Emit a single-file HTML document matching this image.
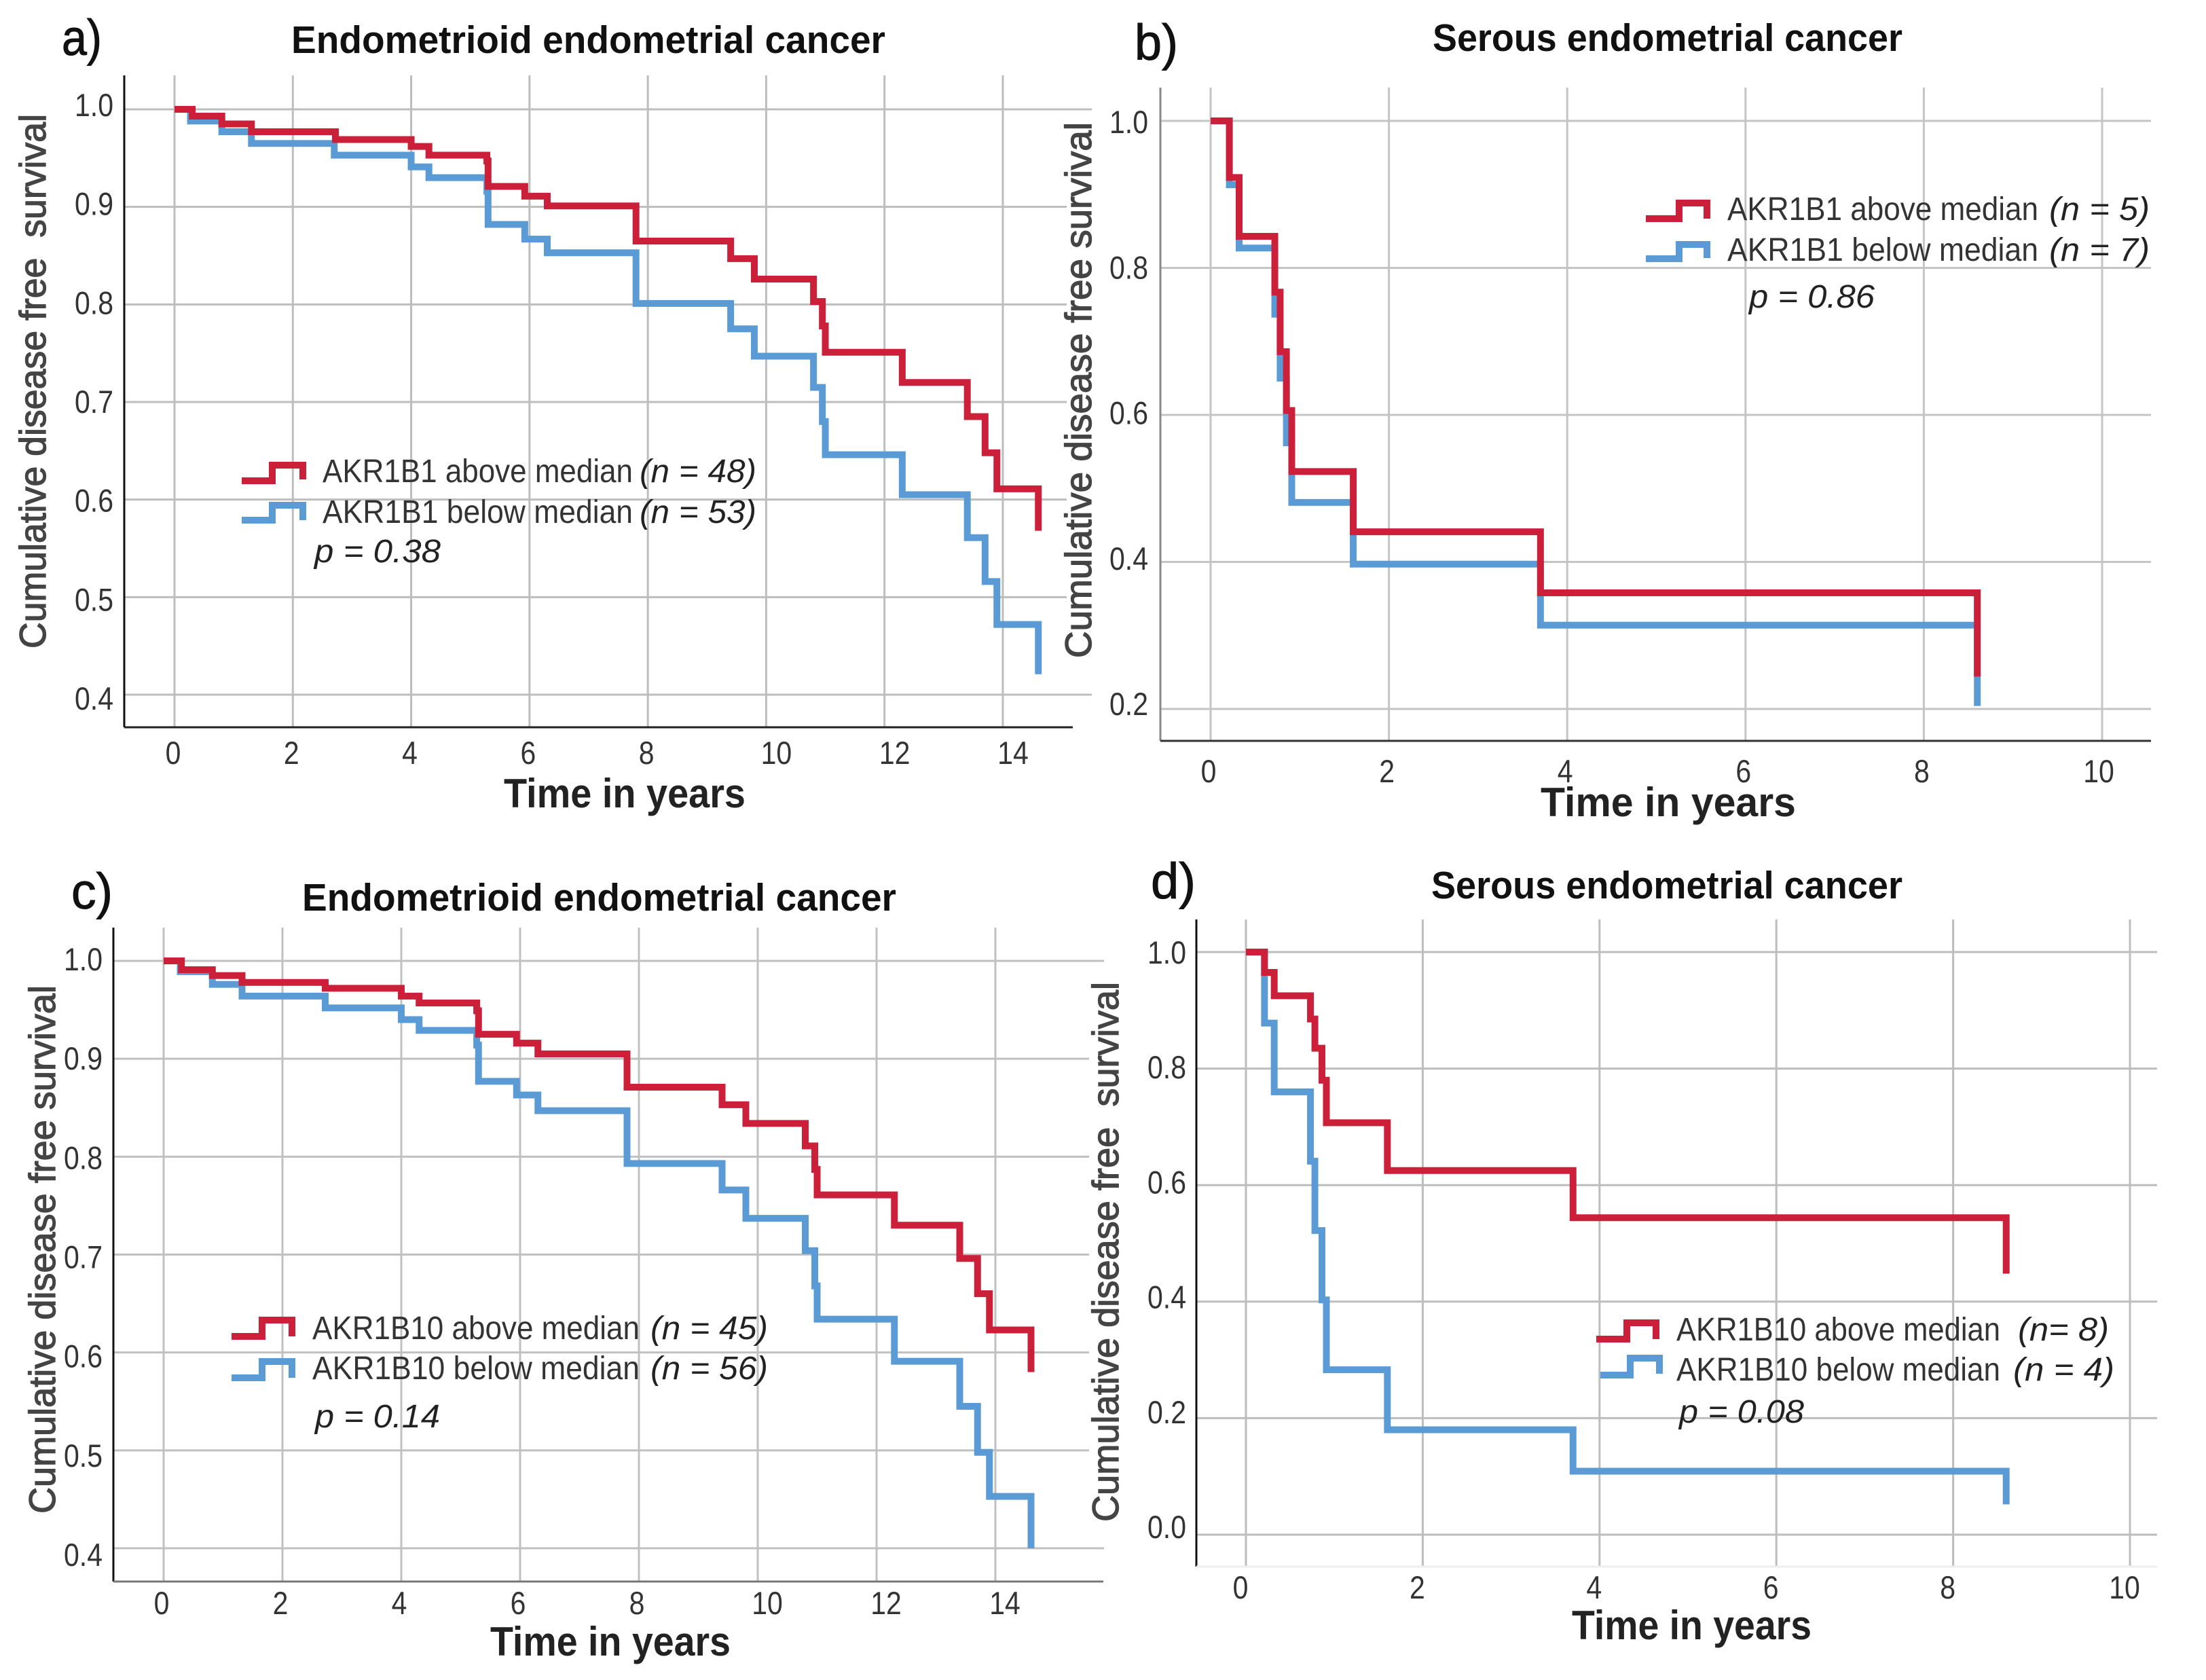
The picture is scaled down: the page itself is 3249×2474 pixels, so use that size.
<!DOCTYPE html>
<html lang="en">
<head>
<meta charset="utf-8">
<title>Disease free survival by AKR1B1 and AKR1B10 expression</title>
<style>
html,body{margin:0;padding:0;background:#fff;}
svg{display:block;}
text{font-family:"Liberation Sans",sans-serif;}
.title{font-weight:bold;font-size:57px;fill:#111;}
.panel-letter{font-size:74px;fill:#111;stroke:#111;stroke-width:1px;}
.x-title{font-weight:bold;font-size:60px;fill:#222;}
.y-title{font-size:55px;fill:#444;stroke:#444;stroke-width:1.3px;white-space:pre;}
.tick{font-size:47px;fill:#333;}
.legend{font-size:48px;fill:#333;}
.legend-i{font-size:48px;fill:#222;font-style:italic;}
</style>
</head>
<body>
<svg id="figure" xmlns="http://www.w3.org/2000/svg" width="3249" height="2474" viewBox="0 0 3249 2474">
<rect width="3249" height="2474" fill="#fff"/>

<g id="panel-a">
  <g id="marks-a"></g>
  <text class="panel-letter" x="91" y="81" textLength="59" lengthAdjust="spacingAndGlyphs">a)</text>
  <text class="title" x="429" y="78" textLength="875" lengthAdjust="spacingAndGlyphs">Endometrioid endometrial cancer</text>
  <text class="x-title" x="742" y="1189" textLength="356" lengthAdjust="spacingAndGlyphs">Time in years</text>
  <text class="y-title" transform="translate(67,955) rotate(-90)" textLength="787" lengthAdjust="spacingAndGlyphs">Cumulative disease free  survival</text>
  <path d="M356 708H401V685H446V706" fill="none" stroke="#cc1f3a" stroke-width="10"/>
  <path d="M356 766H401V744H446V766" fill="none" stroke="#5b9bd5" stroke-width="10"/>
  <text class="legend" x="475" y="710" textLength="457" lengthAdjust="spacingAndGlyphs">AKR1B1 above median</text>
  <text class="legend-i" x="942" y="710" textLength="172" lengthAdjust="spacingAndGlyphs">(n = 48)</text>
  <text class="legend" x="475" y="770" textLength="457" lengthAdjust="spacingAndGlyphs">AKR1B1 below median</text>
  <text class="legend-i" x="942" y="770" textLength="172" lengthAdjust="spacingAndGlyphs">(n = 53)</text>
  <text class="legend-i" x="463" y="828" textLength="186" lengthAdjust="spacingAndGlyphs">p = 0.38</text>
</g>

<g id="panel-b">
  <rect x="1571" y="180" width="54" height="790" fill="#fff"/>
  <g id="marks-b"></g>
  <text class="panel-letter" x="1671" y="88" textLength="64" lengthAdjust="spacingAndGlyphs">b)</text>
  <text class="title" x="2110" y="75" textLength="692" lengthAdjust="spacingAndGlyphs">Serous endometrial cancer</text>
  <text class="x-title" x="2269" y="1202" textLength="376" lengthAdjust="spacingAndGlyphs">Time in years</text>
  <text class="y-title" transform="translate(1607,969) rotate(-90)" textLength="789" lengthAdjust="spacingAndGlyphs">Cumulative disease free survival</text>
  <path d="M2424 322H2473V299H2514V322" fill="none" stroke="#cc1f3a" stroke-width="10"/>
  <path d="M2424 381H2473V360H2514V380" fill="none" stroke="#5b9bd5" stroke-width="10"/>
  <text class="legend" x="2544" y="324" textLength="458" lengthAdjust="spacingAndGlyphs">AKR1B1 above median</text>
  <text class="legend-i" x="3018" y="324" textLength="148" lengthAdjust="spacingAndGlyphs">(n = 5)</text>
  <text class="legend" x="2544" y="384" textLength="458" lengthAdjust="spacingAndGlyphs">AKR1B1 below median</text>
  <text class="legend-i" x="3018" y="384" textLength="148" lengthAdjust="spacingAndGlyphs">(n = 7)</text>
  <text class="legend-i" x="2576" y="453" textLength="185" lengthAdjust="spacingAndGlyphs">p = 0.86</text>
</g>

<g id="panel-c">
  <g id="marks-c"></g>
  <text class="panel-letter" x="105" y="1338" textLength="61" lengthAdjust="spacingAndGlyphs">c)</text>
  <text class="title" x="445" y="1341" textLength="875" lengthAdjust="spacingAndGlyphs">Endometrioid endometrial cancer</text>
  <text class="x-title" x="722" y="2438" textLength="354" lengthAdjust="spacingAndGlyphs">Time in years</text>
  <text class="y-title" transform="translate(81,2229) rotate(-90)" textLength="778" lengthAdjust="spacingAndGlyphs">Cumulative disease free survival</text>
  <path d="M341 1968H386V1944H430V1968" fill="none" stroke="#cc1f3a" stroke-width="10"/>
  <path d="M341 2029H386V2005H430V2029" fill="none" stroke="#5b9bd5" stroke-width="10"/>
  <text class="legend" x="460" y="1972" textLength="482" lengthAdjust="spacingAndGlyphs">AKR1B10 above median</text>
  <text class="legend-i" x="958" y="1972" textLength="173" lengthAdjust="spacingAndGlyphs">(n = 45)</text>
  <text class="legend" x="460" y="2031" textLength="482" lengthAdjust="spacingAndGlyphs">AKR1B10 below median</text>
  <text class="legend-i" x="958" y="2031" textLength="173" lengthAdjust="spacingAndGlyphs">(n = 56)</text>
  <text class="legend-i" x="464" y="2102" textLength="184" lengthAdjust="spacingAndGlyphs">p = 0.14</text>
</g>

<g id="panel-d">
  <rect x="1604" y="1446" width="48" height="796" fill="#fff"/>
  <g id="marks-d"></g>
  <text class="panel-letter" x="1695" y="1323" textLength="66" lengthAdjust="spacingAndGlyphs">d)</text>
  <text class="title" x="2108" y="1323" textLength="694" lengthAdjust="spacingAndGlyphs">Serous endometrial cancer</text>
  <text class="x-title" x="2315" y="2414" textLength="353" lengthAdjust="spacingAndGlyphs">Time in years</text>
  <text class="y-title" transform="translate(1647,2241) rotate(-90)" textLength="795" lengthAdjust="spacingAndGlyphs">Cumulative disease free  survival</text>
  <path d="M2351 1972H2396V1948H2439V1972" fill="none" stroke="#cc1f3a" stroke-width="10"/>
  <path d="M2357 2025H2401V2000H2444V2023" fill="none" stroke="#5b9bd5" stroke-width="10"/>
  <text class="legend" x="2469" y="1974" textLength="477" lengthAdjust="spacingAndGlyphs">AKR1B10 above median</text>
  <text class="legend-i" x="2972" y="1974" textLength="134" lengthAdjust="spacingAndGlyphs">(n= 8)</text>
  <text class="legend" x="2469" y="2033" textLength="477" lengthAdjust="spacingAndGlyphs">AKR1B10 below median</text>
  <text class="legend-i" x="2965" y="2033" textLength="149" lengthAdjust="spacingAndGlyphs">(n = 4)</text>
  <text class="legend-i" x="2473" y="2095" textLength="184" lengthAdjust="spacingAndGlyphs">p = 0.08</text>
</g>
</svg>

<script>
// Tick labels
const xTicksLong = ['0','2','4','6','8','10','12','14'];
const xTicksShort = ['0','2','4','6','8','10'];
const yTicksEndometrioid = ['1.0','0.9','0.8','0.7','0.6','0.5','0.4'];
const yTicksSerousB = ['1.0','0.8','0.6','0.4','0.2'];
const yTicksSerousD = ['1.0','0.8','0.6','0.4','0.2','0.0'];

// Panel a: AKR1B1, endometrioid
const aAboveTimes = [0,0.3,0.8,1.3,2.72,4.0,4.3,5.28,5.3,5.92,6.3,7.8,9.4,9.8,10.8,10.95,11.0,12.3,13.4,13.7,13.9,14.6];
const aAboveSurvival = [1,0.993,0.985,0.977,0.969,0.962,0.953,0.947,0.921,0.911,0.901,0.865,0.847,0.826,0.803,0.778,0.751,0.72,0.685,0.648,0.611,0.568];
const aBelowTimes = [0,0.27,0.8,1.3,2.7,4.0,4.3,5.28,5.3,5.92,6.3,7.8,9.4,9.8,10.8,10.95,11.0,12.3,13.4,13.7,13.9,14.6];
const aBelowSurvival = [1,0.988,0.977,0.965,0.953,0.941,0.93,0.916,0.882,0.867,0.853,0.801,0.775,0.747,0.715,0.68,0.646,0.605,0.561,0.516,0.472,0.421];

// Panel b: AKR1B1, serous
const bAboveTimes = [0,0.21,0.32,0.72,0.78,0.85,0.91,1.6,3.7,8.6];
const bAboveSurvival = [1,0.923,0.843,0.767,0.686,0.606,0.523,0.441,0.358,0.244];
const bBelowTimes = [0,0.21,0.32,0.72,0.78,0.85,0.91,1.6,3.7,8.6];
const bBelowSurvival = [1,0.913,0.827,0.737,0.65,0.562,0.481,0.397,0.314,0.204];

// Panel c: AKR1B10, endometrioid
const cAboveTimes = [0,0.3,0.82,1.32,2.72,4.0,4.3,5.27,5.3,5.94,6.3,7.8,9.4,9.8,10.8,10.96,11.0,12.3,13.4,13.7,13.9,14.6];
const cAboveSurvival = [1,0.991,0.985,0.978,0.972,0.964,0.957,0.949,0.925,0.916,0.905,0.871,0.853,0.834,0.811,0.787,0.761,0.73,0.696,0.66,0.623,0.58];
const cBelowTimes = [0,0.28,0.82,1.32,2.72,4.0,4.3,5.27,5.3,5.94,6.3,7.8,9.4,9.8,10.8,10.96,11.0,12.3,13.4,13.7,13.9,14.6];
const cBelowSurvival = [1,0.989,0.976,0.964,0.952,0.94,0.929,0.914,0.877,0.863,0.847,0.793,0.766,0.737,0.704,0.668,0.634,0.591,0.545,0.498,0.453,0.40];

// Panel d: AKR1B10, serous
const dAboveTimes = [0,0.21,0.32,0.73,0.78,0.86,0.91,1.6,3.7,8.6];
const dAboveSurvival = [1,0.965,0.925,0.885,0.835,0.78,0.707,0.625,0.544,0.448];
const dBelowTimes = [0,0.21,0.32,0.73,0.78,0.86,0.91,1.6,3.7,8.6];
const dBelowSurvival = [1,0.878,0.76,0.641,0.522,0.403,0.283,0.18,0.109,0.052];

const SVG_NS = 'http://www.w3.org/2000/svg';

function make(parent, tag, attrs) {
  const el = document.createElementNS(SVG_NS, tag);
  Object.keys(attrs).forEach(function (k) { el.setAttribute(k, attrs[k]); });
  parent.appendChild(el);
  return el;
}

function stepPath(times, survival, xScale, yScale) {
  let d = 'M' + xScale(times[0]) + ' ' + yScale(survival[0]);
  for (let i = 1; i < times.length; i++) {
    d += 'H' + xScale(times[i]) + 'V' + yScale(survival[i]);
  }
  return d;
}

function tickWidth(label) {
  let w = 0;
  for (const ch of label) { w += ch === '.' ? 11.4 : 22.8; }
  return w;
}

function drawPanel(cfg) {
  const root = document.getElementById(cfg.id);
  const xScale = function (t) { return cfg.x0 + t * cfg.perYear; };
  const yScale = function (s) { return cfg.yRef + (cfg.sRef - s) * cfg.perUnit; };
  const labelY = function (i, n) { return cfg.labelTop + (cfg.labelBottom - cfg.labelTop) * i / (n - 1); };

  cfg.yTicks.forEach(function (label, i) {
    const v = parseFloat(label);
    const line = make(root, 'line', {x1: cfg.left, x2: cfg.gridRight, y1: yScale(v), y2: yScale(v), stroke: cfg.gridColor, 'stroke-width': 3});
    
    
    const text = make(root, 'text', {x: cfg.yLabelRight, y: labelY(i, cfg.yTicks.length), 'text-anchor': 'end', class: 'tick', textLength: tickWidth(label), lengthAdjust: 'spacingAndGlyphs'});
    text.textContent = label;
    
    
  });

  cfg.xTicks.forEach(function (label) {
    const v = parseFloat(label);
    const line = make(root, 'line', {x1: xScale(v), x2: xScale(v), y1: cfg.top, y2: cfg.bottom, stroke: cfg.gridColor, 'stroke-width': 3});
    
    
    const shift = cfg.labelBase + (label.length > 1 ? cfg.labelWide : 0);
    const text = make(root, 'text', {x: xScale(v) + shift, y: cfg.xLabelY, 'text-anchor': 'middle', class: 'tick', textLength: tickWidth(label), lengthAdjust: 'spacingAndGlyphs'});
    text.textContent = label;
    
    
  });

  const yAxis = make(root, 'line', {x1: cfg.left, x2: cfg.left, y1: cfg.top, y2: cfg.bottom, stroke: cfg.yAxisColor, 'stroke-width': 3});
  
  
  const xAxis = make(root, 'line', {x1: cfg.left, x2: cfg.right, y1: cfg.bottom, y2: cfg.bottom, stroke: cfg.xAxisColor, 'stroke-width': 3});
  
  

  const below = make(root, 'path', {d: stepPath(cfg.belowT, cfg.belowS, xScale, yScale), fill: 'none', stroke: '#5b9bd5', 'stroke-width': 10});
  
  
  const above = make(root, 'path', {d: stepPath(cfg.aboveT, cfg.aboveS, xScale, yScale), fill: 'none', stroke: '#cc1f3a', 'stroke-width': 10});
  
  
}

drawPanel({id:'marks-a', left:183, right:1580, gridRight:1608, top:111, bottom:1071, x0:257, perYear:87.14, yRef:161, sRef:1, perUnit:1436.7,
  yLabelRight:167, labelTop:171, labelBottom:1045, xLabelY:1125, labelBase:-2, labelWide:17, gridColor:'#bdbdbd', yAxisColor:'#111', xAxisColor:'#222',
  xTicks:xTicksLong, yTicks:yTicksEndometrioid, aboveT:aAboveTimes, aboveS:aAboveSurvival, belowT:aBelowTimes, belowS:aBelowSurvival});

drawPanel({id:'marks-b', left:1709, right:3168, gridRight:3168, top:129, bottom:1091, x0:1783, perYear:131.3, yRef:178, sRef:1, perUnit:1082.5,
  yLabelRight:1691, labelTop:196, labelBottom:1053, xLabelY:1152, labelBase:-3, labelWide:-2, gridColor:'#c4c4c4', yAxisColor:'#888', xAxisColor:'#333',
  xTicks:xTicksShort, yTicks:yTicksSerousB, aboveT:bAboveTimes, aboveS:bAboveSurvival, belowT:bBelowTimes, belowS:bBelowSurvival});

drawPanel({id:'marks-c', left:167, right:1625, gridRight:1626, top:1366, bottom:2329, x0:241, perYear:87.5, yRef:1415, sRef:1, perUnit:1441.7,
  yLabelRight:151, labelTop:1429, labelBottom:2306, xLabelY:2377, labelBase:-3, labelWide:17, gridColor:'#c0c0c0', yAxisColor:'#111', xAxisColor:'#777',
  xTicks:xTicksLong, yTicks:yTicksEndometrioid, aboveT:cAboveTimes, aboveS:cAboveSurvival, belowT:cBelowTimes, belowS:cBelowSurvival});

drawPanel({id:'marks-d', left:1762, right:3177, gridRight:3177, top:1354, bottom:2307, x0:1835, perYear:130.2, yRef:1402, sRef:1, perUnit:858,
  yLabelRight:1747, labelTop:1419, labelBottom:2265, xLabelY:2354, labelBase:-8, labelWide:0, gridColor:'#bdbdbd', yAxisColor:'#111', xAxisColor:'#eee',
  xTicks:xTicksShort, yTicks:yTicksSerousD, aboveT:dAboveTimes, aboveS:dAboveSurvival, belowT:dBelowTimes, belowS:dBelowSurvival});
</script>
</body>
</html>
